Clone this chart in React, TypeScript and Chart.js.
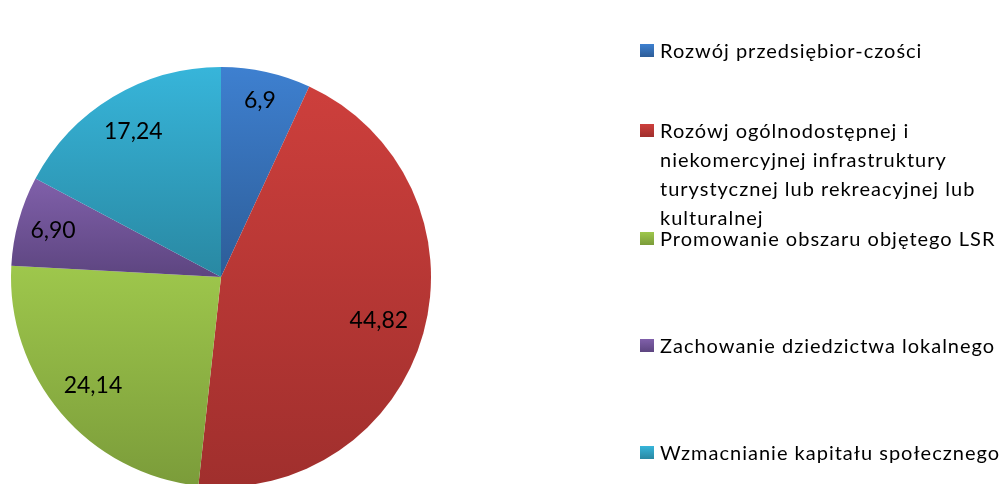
import React, { useEffect, useRef } from "react";
import { Chart, registerables } from "chart.js";

Chart.register(...registerables);

const categories: (string | string[])[] = [
  "Rozwój przedsiębior-czości",
  [
    "Rozówj ogólnodostępnej i",
    "niekomercyjnej infrastruktury",
    "turystycznej lub rekreacyjnej lub",
    "kulturalnej",
  ],
  "Promowanie obszaru objętego LSR",
  "Zachowanie dziedzictwa lokalnego",
  "Wzmacnianie kapitału społecznego",
];
const values = [6.9, 44.82, 24.14, 6.9, 17.24];
const valueLabels = ["6,9", "44,82", "24,14", "6,90", "17,24"];

const topColors = ["#3e80d0", "#cd3f3c", "#9ec74c", "#8060aa", "#37b5da"];
const bottomColors = ["#2d5d98", "#a02f2d", "#7b9c3a", "#5d4580", "#2988a2"];
const labelRadius = [0.86, 0.78, 0.8, 0.83, 0.81];
const legendCenters = [50, 130, 238, 345, 452];

function sliceAngles(i: number) {
  const total = values.reduce((a, b) => a + b, 0);
  let before = 0;
  for (let k = 0; k < i; k++) before += values[k];
  const a0 = -Math.PI / 2 + (2 * Math.PI * before) / total;
  const a1 = a0 + (2 * Math.PI * values[i]) / total;
  return [a0, a1];
}

export default function App() {
  const ref = useRef<HTMLCanvasElement | null>(null);
  useEffect(() => {
    document.body.style.margin = "0";
    const canvas = ref.current!;
    const labelPlugin = {
      id: "sliceLabels",
      afterDatasetsDraw(chart: any) {
        const ctx = chart.ctx;
        const meta = chart.getDatasetMeta(0);
        ctx.save();
        ctx.font = "23px Lato";
        ctx.fillStyle = "#000";
        ctx.textAlign = "center";
        ctx.textBaseline = "middle";
        meta.data.forEach((arc: any, i: number) => {
          const mid = (arc.startAngle + arc.endAngle) / 2;
          const r = arc.outerRadius * labelRadius[i];
          ctx.fillText(valueLabels[i], arc.x + Math.cos(mid) * r, arc.y + Math.sin(mid) * r);
        });
        ctx.restore();
      },
    };
    const chart = new Chart(canvas, {
      type: "pie",
      data: {
        labels: categories as any,
        datasets: [
          {
            data: values,
            borderWidth: 0,
            backgroundColor: (c: any) => {
              const i = c.dataIndex;
              const area = c.chart.chartArea;
              if (!area || c.type !== "data") return topColors[i] ?? "#888";
              const cx = (area.left + area.right) / 2;
              const cy = (area.top + area.bottom) / 2;
              const r = Math.min(area.right - area.left, area.bottom - area.top) / 2;
              const [a0, a1] = sliceAngles(i);
              const ys = [cy, cy + r * Math.sin(a0), cy + r * Math.sin(a1)];
              for (const a of [-Math.PI / 2, Math.PI / 2, (3 * Math.PI) / 2]) {
                if (a > a0 && a < a1) ys.push(cy + r * Math.sin(a));
              }
              const y0 = Math.min(...ys);
              const y1 = Math.max(...ys);
              const g = c.chart.ctx.createLinearGradient(0, y0, 0, y1);
              g.addColorStop(0, topColors[i]);
              g.addColorStop(1, bottomColors[i]);
              return g;
            },
          },
        ],
      },
      options: {
        animation: false,
        responsive: false,
        maintainAspectRatio: false,
        layout: { padding: { left: 11, top: 67, right: 573, bottom: 13 } },
        plugins: { legend: { display: false }, tooltip: { enabled: false } },
      },
      plugins: [labelPlugin],
    });
    return () => chart.destroy();
  }, []);

  return (
    <div style={{ position: "relative", width: 1004, height: 484, overflow: "hidden", background: "#fff" }}>
      <canvas ref={ref} width={1004} height={500} style={{ position: "absolute", left: 0, top: 0 }} />
      {categories.map((cat, i) => {
        const lines = Array.isArray(cat) ? cat : [cat];
        return (
          <div
            key={i}
            style={{
              position: "absolute",
              left: 640,
              top: legendCenters[i] - 14.5,
              fontFamily: "Lato",
              fontSize: 20,
              letterSpacing: "1px",
              lineHeight: "29px",
              color: "#000",
              whiteSpace: "nowrap",
            }}
          >
            <span
              style={{
                position: "absolute",
                left: 0,
                top: 8,
                width: 14,
                height: 13,
                background: `linear-gradient(${topColors[i]}, ${bottomColors[i]})`,
              }}
            />
            <div style={{ marginLeft: 20 }}>
              {lines.map((l, k) => (
                <div key={k}>{l}</div>
              ))}
            </div>
          </div>
        );
      })}
    </div>
  );
}
